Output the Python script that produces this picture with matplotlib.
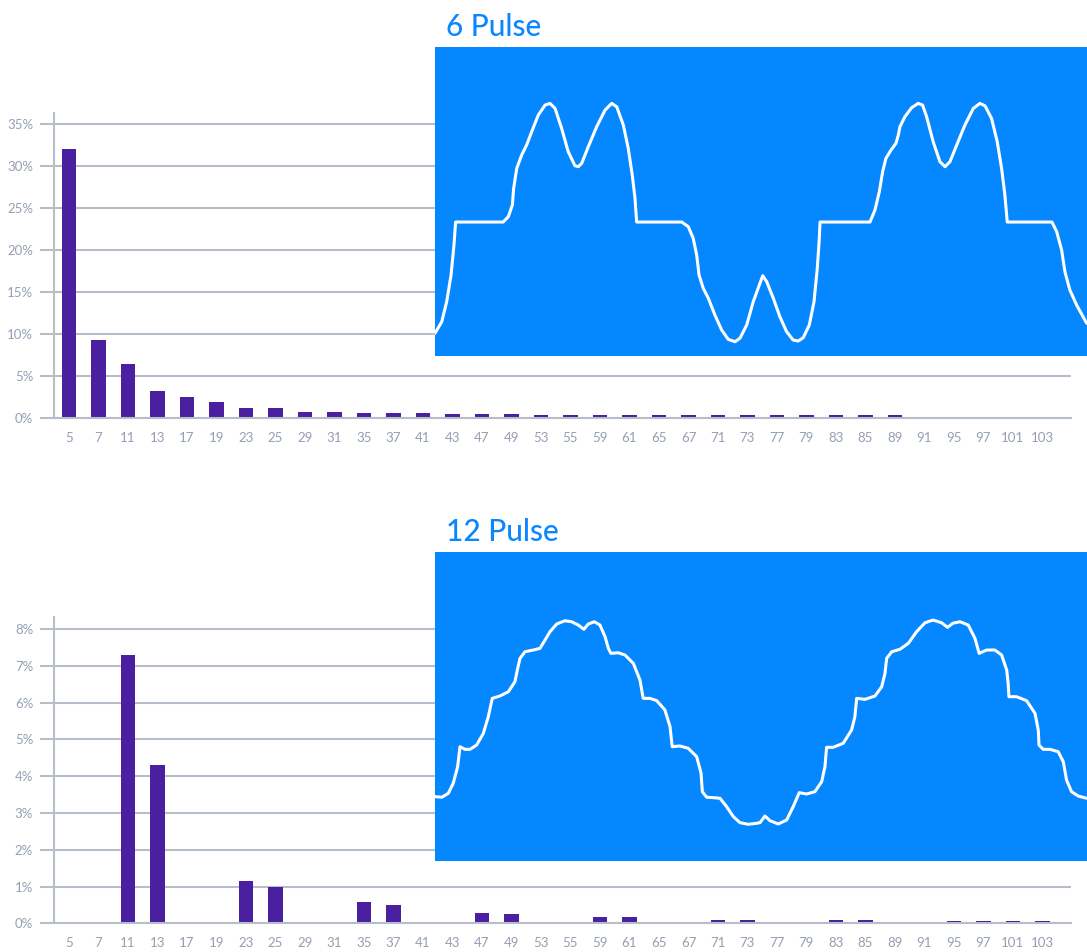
import numpy as np
import matplotlib.pyplot as plt

plt.rcParams['font.family'] = ['Lato', 'DejaVu Sans']

# harmonic order and % of fundamental
orders = [5, 7, 11, 13, 17, 19, 23, 25, 29, 31, 35, 37, 41, 43, 47, 49, 53, 55,
          59, 61, 65, 67, 71, 73, 77, 79, 83, 85, 89, 91, 95, 97, 101, 103]
pulse6 = [32.0, 9.3, 6.4, 3.2, 2.5, 1.9, 1.2, 1.2, 0.72, 0.72, 0.6, 0.6, 0.6,
          0.5, 0.5, 0.5, 0.35, 0.35, 0.35, 0.35, 0.35, 0.35, 0.35, 0.35, 0.35,
          0.35, 0.35, 0.35, 0.35, 0, 0, 0, 0, 0]
pulse12 = [0, 0, 7.3, 4.3, 0, 0, 1.16, 1.0, 0, 0, 0.57, 0.49, 0, 0, 0.29, 0.245,
           0, 0, 0.18, 0.18, 0, 0, 0.1, 0.08, 0, 0, 0.1, 0.1, 0, 0, 0.065,
           0.065, 0.065, 0.065]

# line current waveforms: time (ms) and current (% of peak)
t6 = [0, 0.37, 0.64, 0.88, 1.04, 1.13, 3.74, 4.02, 4.24, 4.31, 4.48, 4.75, 5.02,
      5.30, 5.66, 6.03, 6.30, 6.58, 6.94, 7.30, 7.67, 7.85, 8.04, 8.40, 8.86,
      9.32, 9.68, 9.96, 10.32, 10.59, 10.81, 10.96, 11.05, 13.52, 13.88, 14.15,
      14.34, 14.47, 14.70, 14.98, 15.34, 15.71, 16.07, 16.44, 16.71, 17.08,
      17.44, 17.96, 18.18, 18.54, 18.90, 19.27, 19.63, 19.91, 20.18, 20.51,
      20.77, 20.95, 21.06, 21.10, 23.84, 24.11, 24.35, 24.53, 24.71, 24.99,
      25.26, 25.39, 25.48, 25.75, 26.12, 26.48, 26.72, 26.94, 27.30, 27.67,
      27.95, 28.22, 28.59, 29.04, 29.50, 29.86, 30.14, 30.50, 30.81, 31.05,
      31.23, 31.36, 33.81, 34.07, 34.34, 34.52, 34.79, 35.16, 35.71]
i6 = [-93.5, -83.8, -67.0, -44.5, -19.3, 0, 0, 4.5, 14.3, 28.3, 45.1, 56.3, 64.7,
      75.9, 89.9, 98.3, 99.7, 95.5, 78.7, 59.1, 47.3, 46.5, 49.3, 63.3, 80.1,
      94.1, 99.7, 96.9, 81.5, 61.9, 39.5, 19.9, 0, 0, -3.9, -13.7, -27.7,
      -44.5, -55.7, -64.1, -78.2, -90.8, -98.6, -100.6, -97.7, -86.6, -67.0,
      -45.1, -50.2, -64.1, -79.6, -92.2, -99.2, -100, -97.2, -86.6, -67.0,
      -38.9, -13.7, 0, 0, 10.1, 25.5, 42.3, 53.5, 60.5, 66.1, 73.1, 80.1, 88.5,
      96.1, 99.7, 98.3, 88.5, 67.5, 50.7, 46.5, 50.7, 64.7, 81.5, 95.5, 99.7,
      97.7, 87.1, 67.5, 45.1, 22.7, 0, 0, -8.2, -23.5, -41.8, -57.1, -69.7,
      -85.1]

t12 = [0, 0.37, 0.73, 1.00, 1.24, 1.37, 1.64, 1.92, 2.28, 2.65, 2.92, 3.14,
       3.56, 4.02, 4.38, 4.53, 4.66, 4.93, 5.39, 5.75, 6.03, 6.30, 6.67, 7.12,
       7.49, 7.85, 8.16, 8.40, 8.73, 9.04, 9.32, 9.50, 9.64, 10.04, 10.41,
       10.87, 11.23, 11.41, 11.78, 12.15, 12.60, 12.88, 13.00, 13.42, 13.88,
       14.34, 14.58, 14.65, 14.89, 15.25, 15.62, 15.98, 16.35, 16.71, 17.17,
       17.63, 17.81, 18.08, 18.36, 18.81, 19.27, 19.63, 19.96, 20.37, 20.82,
       21.19, 21.37, 21.46, 21.82, 22.37, 22.83, 23.01, 23.11, 23.56, 24.11,
       24.48, 24.66, 24.75, 25.03, 25.48, 25.94, 26.39, 26.85, 27.30, 27.76,
       28.09, 28.37, 28.77, 29.22, 29.59, 29.82, 30.23, 30.68, 31.05, 31.33,
       31.41, 31.45, 31.87, 32.42, 32.88, 33.06, 33.10, 33.33, 33.70, 34.15,
       34.43, 34.61, 34.88, 35.25, 35.71]
i12 = [-72.9, -73.5, -69.6, -59.8, -43.5, -23.9, -26.5, -26.5, -22.3, -10.8, 5.5,
       23.5, 25.8, 30.0, 39.8, 52.9, 62.7, 69.2, 70.9, 72.5, 80.7, 88.8, 96.4,
       99.6, 98.6, 95.4, 91.2, 96.4, 98.6, 95.4, 83.9, 72.5, 67.6, 68.2, 66.0,
       57.8, 41.5, 23.5, 23.5, 21.2, 12.1, -4.3, -23.9, -23.2, -25.5, -33.7,
       -50.0, -68.0, -73.5, -73.9, -74.5, -82.7, -92.5, -98.4, -100, -99.0,
       -98.4, -91.9, -96.5, -99.7, -95.8, -82.7, -69.0, -70.3, -68.0, -58.2,
       -43.5, -24.5, -24.5, -20.6, -7.5, 5.5, 23.5, 22.5, 25.8, 34.9, 48.0,
       62.7, 69.2, 71.6, 77.5, 88.8, 97.6, 100.3, 97.6, 93.1, 97.1, 98.6, 95.4,
       82.4, 67.6, 70.9, 70.9, 66.0, 51.3, 38.2, 25.1, 25.1, 21.2, 8.8, -7.5,
       -22.3, -26.5, -26.5, -28.8, -38.6, -56.6, -68.0, -72.3, -74.5]

BAR = '#4a1fa0'
GRID = '#b6bec9'
LABEL = '#949fb1'
PANEL = '#0487ff'

fig = plt.figure(figsize=(10.87, 9.52), dpi=100)


def bar_chart(rect, values, ymax, yticks):
    ax = fig.add_axes(rect)
    x = np.arange(len(orders))
    ax.bar(x, values, width=0.49, color=BAR, zorder=2)
    ax.set_xlim(-0.51, 33.97)
    ax.set_ylim(0, ymax)
    ax.set_xticks(x)
    ax.set_xticklabels([str(o) for o in orders])
    ax.set_yticks(yticks)
    ax.set_yticklabels(['%d%%' % v for v in yticks])
    ax.set_axisbelow(True)
    ax.grid(axis='y', color=GRID, linewidth=1.5)
    for s in ['top', 'right']:
        ax.spines[s].set_visible(False)
    for s in ['left', 'bottom']:
        ax.spines[s].set_color(GRID)
        ax.spines[s].set_linewidth(1.5)
        ax.spines[s].set_zorder(3)
    ax.tick_params(axis='y', length=10, width=1.5, color=GRID, pad=5,
                   labelsize=9.5, labelcolor=LABEL)
    ax.tick_params(axis='x', length=0, pad=10, labelsize=9.5, labelcolor=LABEL)
    return ax


def wave_panel(rect, t, i, ylim, title, title_y):
    ax = fig.add_axes(rect)
    ax.set_facecolor(PANEL)
    ax.plot(t, i, color='white', linewidth=2.2, solid_joinstyle='round',
            solid_capstyle='round')
    ax.set_xlim(0, 35.73)
    ax.set_ylim(*ylim)
    ax.set_xticks([])
    ax.set_yticks([])
    for s in ax.spines.values():
        s.set_visible(False)
    fig.text(446 / 1087, title_y, title, color='#0a86ff', fontsize=21.5,
             fontweight='medium', va='baseline', ha='left')
    return ax


bar_chart([54 / 1087, (952 - 418) / 952, 1017 / 1087, 305 / 952],
          pulse6, 36.35, list(range(0, 36, 5)))
bar_chart([54 / 1087, (952 - 923.3) / 952, 1017 / 1087, 306.3 / 952],
          pulse12, 8.33, list(range(0, 9)))

wave_panel([435 / 1087, (952 - 356) / 952, 652 / 1087, 309 / 952],
           t6, i6, (-112.6, 147.1), '6 Pulse', (952 - 36) / 952)
wave_panel([435 / 1087, (952 - 861) / 952, 652 / 1087, 309 / 952],
           t12, i12, (-136, 167), '12 Pulse', (952 - 541) / 952)

fig.savefig('out.png', dpi=100, facecolor='white')
